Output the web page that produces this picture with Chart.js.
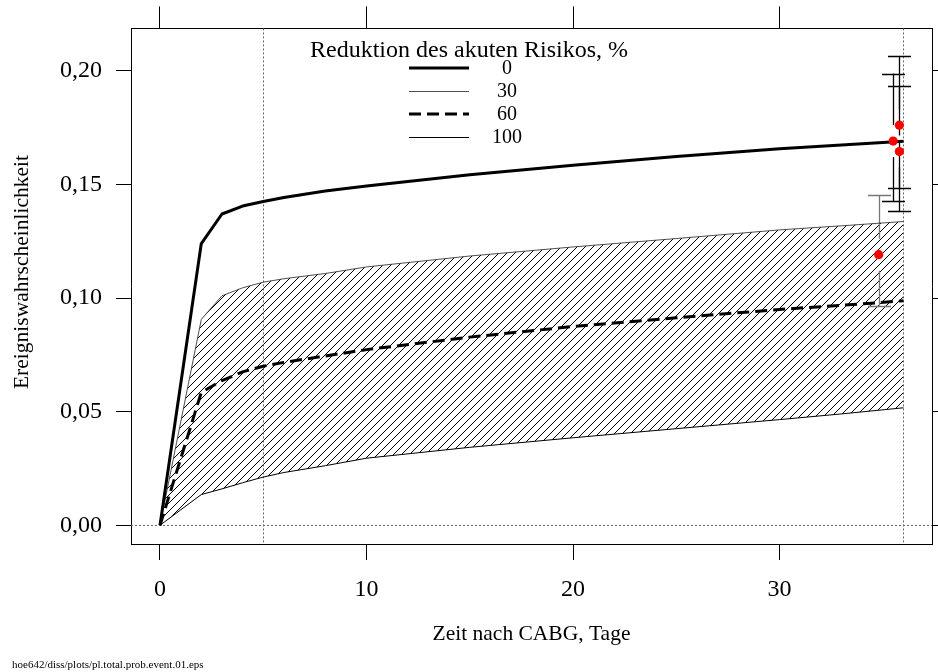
<!DOCTYPE html>
<html>
<head>
<meta charset="utf-8">
<script src="https://cdn.jsdelivr.net/npm/chart.js@4.4.1/dist/chart.umd.min.js"></script>
<style>
  html, body { margin: 0; padding: 0; background: #fff; }
  #wrap { position: relative; width: 938px; height: 672px; }
  #note { position: absolute; left: 12px; top: 659px; font: 11px "Liberation Serif", "Times New Roman", serif; line-height: 11px; color: #000; white-space: nowrap; }
</style>
</head>
<body>
<div id="wrap">
  <canvas id="c" width="938" height="672"></canvas>
  <div id="note">hoe642/diss/plots/pl.total.prob.event.01.eps</div>
</div>
<script>
// Days after CABG at which the cumulative event probability is evaluated
const days = [0, 2, 3, 4, 5, 6, 8, 10, 15, 20, 25, 30, 33, 36];
// Cumulative event probability for each reduction of the acute risk (%)
const risk0   = [0, 0.1240, 0.1370, 0.1405, 0.1425, 0.1443, 0.1471, 0.1493, 0.1543, 0.1585, 0.1623, 0.1657, 0.1674, 0.1690];
const risk30  = [0, 0.0906, 0.1010, 0.1045, 0.1070, 0.1085, 0.1108, 0.1137, 0.1185, 0.1225, 0.1262, 0.1300, 0.1318, 0.1337];
const risk60  = [0, 0.0585, 0.0637, 0.0675, 0.0700, 0.0717, 0.0745, 0.0773, 0.0828, 0.0875, 0.0913, 0.0950, 0.0968, 0.0988];
const risk100 = [0, 0.0135, 0.0160, 0.0187, 0.0212, 0.0232, 0.0262, 0.0295, 0.0343, 0.0385, 0.0425, 0.0465, 0.0490, 0.0517];
const reductionLabels = ['0', '30', '60', '100'];
const keyTitle = 'Reduktion des akuten Risikos, %';

// Observed event rates with confidence limits
const obsDays  = [34.8, 35.5, 35.8, 35.8];
const obsValue = [0.1191, 0.1691, 0.1761, 0.1645];
const obsLower = [0.0967, 0.1427, 0.1383, 0.1483];
const obsUpper = [0.1453, 0.1988, 0.2065, 0.1935];
const obsBarColors = ['#777', '#000', '#000', '#000'];

// Axis ticks and reference lines
const xTicks = [0, 10, 20, 30];
const yTicks = [0, 0.05, 0.10, 0.15, 0.20];
const refDays = [5, 36];
const refLevels = [0];

const serif = '"Liberation Serif", "Times New Roman", serif';
Chart.defaults.font.family = serif;
Chart.defaults.color = '#000';

const canvas = document.getElementById('c');
const ctx = canvas.getContext('2d');

// Diagonal "////" hatching used between the 30 % and 100 % curves
function hatchPattern() {
  const s = 8;
  const tile = document.createElement('canvas');
  tile.width = s; tile.height = s;
  const t = tile.getContext('2d');
  t.strokeStyle = '#000';
  t.lineWidth = 1;
  t.beginPath();
  t.moveTo(0, s); t.lineTo(s, 0);
  t.moveTo(-s / 2, s / 2); t.lineTo(s / 2, -s / 2);
  t.moveTo(s / 2, s + s / 2); t.lineTo(s + s / 2, s / 2);
  t.stroke();
  return ctx.createPattern(tile, 'repeat');
}

const pts = (xs, ys) => xs.map((x, i) => ({ x: x, y: ys[i] }));
const fmtY = v => v.toFixed(2).replace('.', ',');
const X_MIN = -1.404, X_MAX = 37.38, Y_MIN = -0.00826, Y_MAX = 0.2187;

// Dotted reference lines and confidence bars (drawn above the hatching, below the curves)
const overlays = {
  id: 'overlays',
  beforeDatasetsDraw(chart) {
    const c = chart.ctx, a = chart.chartArea;
    const xs = chart.scales.x, ys = chart.scales.y;
    c.save();
    c.strokeStyle = '#666';
    c.lineWidth = 1;
    c.setLineDash([2, 2]);
    refDays.forEach(d => {
      const px = Math.round(xs.getPixelForValue(d)) + 0.5;
      c.beginPath(); c.moveTo(px, a.top); c.lineTo(px, a.bottom); c.stroke();
    });
    refLevels.forEach(v => {
      const py = Math.round(ys.getPixelForValue(v)) + 0.5;
      c.beginPath(); c.moveTo(a.left, py); c.lineTo(a.right, py); c.stroke();
    });
    c.setLineDash([]);
    obsDays.forEach((d, i) => {
      const px = Math.round(xs.getPixelForValue(d)) + 0.5;
      const pm = ys.getPixelForValue(obsValue[i]);
      const pl = ys.getPixelForValue(obsLower[i]);
      const pu = ys.getPixelForValue(obsUpper[i]);
      const gap = 16, cap = 11.5;
      c.strokeStyle = obsBarColors[i];
      c.lineWidth = 1.3;
      c.beginPath();
      c.moveTo(px, pu); c.lineTo(px, Math.max(pu, pm - gap));
      c.moveTo(px, Math.min(pl, pm + gap)); c.lineTo(px, pl);
      c.moveTo(px - cap, Math.round(pu) + 0.5); c.lineTo(px + cap, Math.round(pu) + 0.5);
      c.moveTo(px - cap, Math.round(pl) + 0.5); c.lineTo(px + cap, Math.round(pl) + 0.5);
      c.stroke();
    });
    c.restore();
  },
  afterDraw(chart) {
    const c = chart.ctx;
    c.save();
    c.fillStyle = '#000';
    // y-axis title
    c.translate(22, 272);
    c.rotate(-Math.PI / 2);
    c.font = '21.5px ' + serif;
    c.textAlign = 'center';
    c.textBaseline = 'middle';
    c.fillText('Ereigniswahrscheinlichkeit', 0, 0);
    c.restore();

    // key of the curves
    c.save();
    c.fillStyle = '#000';
    c.textAlign = 'center';
    c.font = '24px ' + serif;
    c.textBaseline = 'alphabetic';
    c.fillText(keyTitle, 469, 57);
    chart.data.datasets.forEach((ds, i) => {
      if (ds.isObs) return;
      const row = 68 + i * 23;
      const y = ds.borderWidth < 2 ? row + 0.5 : row;
      c.beginPath();
      c.lineWidth = ds.borderWidth;
      c.strokeStyle = ds.borderColor;
      c.setLineDash(ds.borderDash || []);
      c.moveTo(409, y); c.lineTo(469, y);
      c.stroke();
      c.setLineDash([]);
      c.font = '20px ' + serif;
      c.textBaseline = 'middle';
      c.fillText(ds.label, 507, row + 0.5);
    });
    c.restore();
  }
};

const tickFont = { family: serif, size: 24 };
const frame = { display: true, color: '#000', width: 1 };

new Chart(canvas, {
  type: 'line',
  data: {
    datasets: [
      { label: reductionLabels[0], data: pts(days, risk0), borderColor: '#000', borderWidth: 3, pointRadius: 0, fill: false },
      { label: reductionLabels[1], data: pts(days, risk30), borderColor: '#222', borderWidth: 0.8, pointRadius: 0, fill: 3, backgroundColor: hatchPattern() },
      { label: reductionLabels[2], data: pts(days, risk60), borderColor: '#000', borderWidth: 3, borderDash: [12, 6], pointRadius: 0, fill: false },
      { label: reductionLabels[3], data: pts(days, risk100), borderColor: '#000', borderWidth: 1, pointRadius: 0, fill: false },
      { label: 'Beobachtet', isObs: true, type: 'scatter', order: -1, data: pts(obsDays, obsValue), backgroundColor: '#ff0000', borderColor: '#ff0000', borderWidth: 0, pointRadius: 4.6, showLine: false }
    ]
  },
  options: {
    responsive: false,
    devicePixelRatio: 1,
    animation: false,
    layout: { padding: 0 },
    plugins: {
      legend: { display: false },
      tooltip: { enabled: false },
      filler: { drawTime: 'beforeDatasetsDraw' }
    },
    elements: { line: { tension: 0, borderCapStyle: 'butt', borderJoinStyle: 'round' } },
    scales: {
      x: {
        type: 'linear', position: 'bottom', min: X_MIN, max: X_MAX,
        afterBuildTicks: s => { s.ticks = xTicks.map(v => ({ value: v })); },
        afterFit: s => { s.height = 128; },
        grid: { drawOnChartArea: false, tickLength: 16, color: '#000', tickColor: '#000', tickWidth: 1 },
        border: frame,
        ticks: { font: tickFont, color: '#000', padding: 15, maxRotation: 0, autoSkip: false },
        title: { display: true, text: 'Zeit nach CABG, Tage', font: { family: serif, size: 21.5 }, color: '#000', padding: { top: 0, bottom: 25 } }
      },
      x2: {
        type: 'linear', position: 'top', min: X_MIN, max: X_MAX,
        afterBuildTicks: s => { s.ticks = xTicks.map(v => ({ value: v })); },
        afterFit: s => { s.height = 22; },
        grid: { drawOnChartArea: false, tickLength: 22, color: '#000', tickColor: '#000', tickWidth: 1 },
        border: frame,
        ticks: { display: false }
      },
      y: {
        type: 'linear', position: 'left', min: Y_MIN, max: Y_MAX,
        afterBuildTicks: s => { s.ticks = yTicks.map(v => ({ value: v })); },
        afterFit: s => { s.width = 131; },
        grid: { drawOnChartArea: false, tickLength: 15, color: '#000', tickColor: '#000', tickWidth: 1 },
        border: frame,
        ticks: { font: tickFont, color: '#000', padding: 14, callback: v => fmtY(v) }
      },
      y2: {
        type: 'linear', position: 'right', min: Y_MIN, max: Y_MAX,
        afterBuildTicks: s => { s.ticks = yTicks.map(v => ({ value: v })); },
        afterFit: s => { s.width = 6; },
        grid: { drawOnChartArea: false, tickLength: 15, color: '#000', tickColor: '#000', tickWidth: 1 },
        border: frame,
        ticks: { display: false }
      }
    }
  },
  plugins: [overlays]
});
</script>
</body>
</html>
